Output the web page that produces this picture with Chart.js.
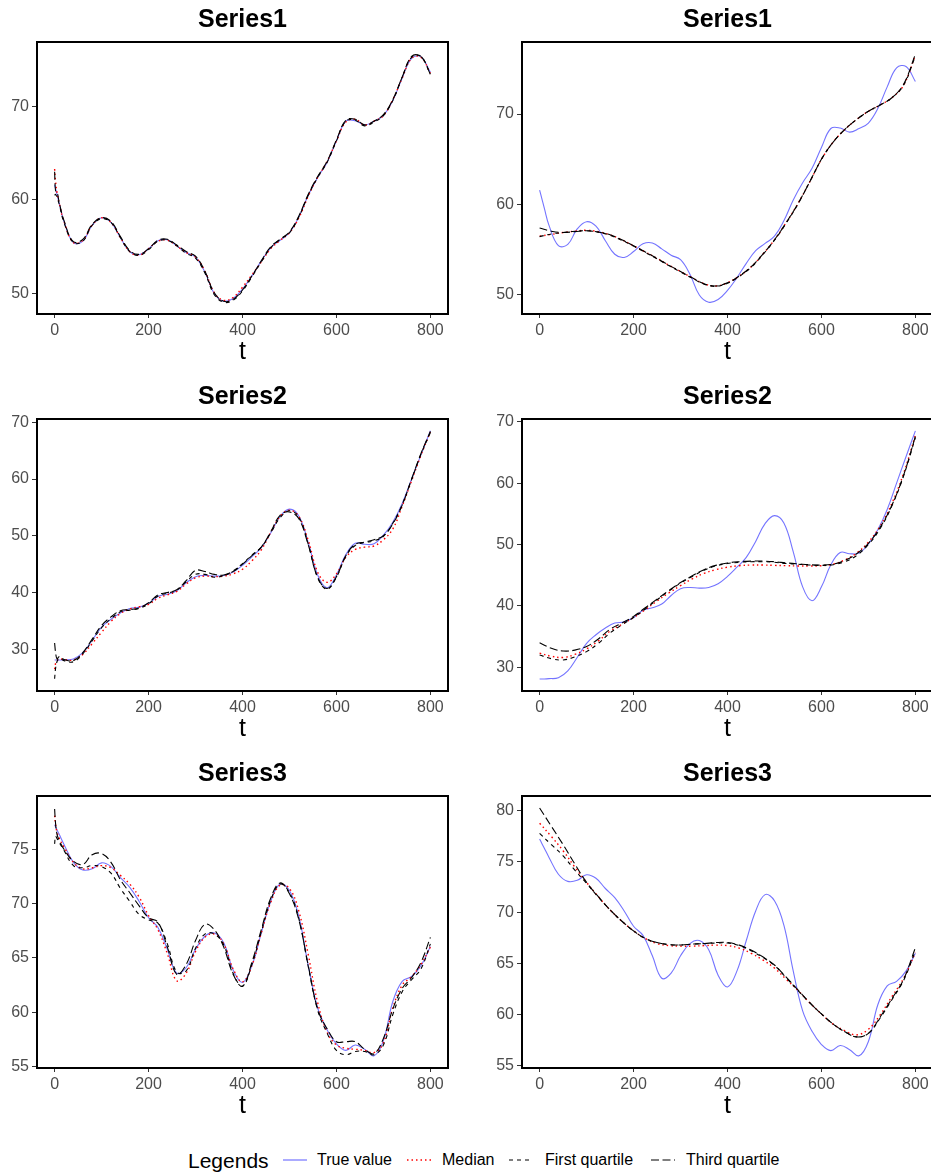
<!DOCTYPE html>
<html>
<head>
<meta charset="utf-8">
<script src="https://cdn.jsdelivr.net/npm/chart.js@4.4.1/dist/chart.umd.min.js"></script>
<style>
  html, body { margin: 0; padding: 0; background: #fff; width: 931px; height: 1173px; overflow: hidden; }
  body { position: relative; font-family: 'Liberation Sans', Arial, Helvetica, sans-serif; }
  canvas { position: absolute; }
  .lg { position: absolute; top: 1160px; transform: translateY(-50%); line-height: 1; color: #000; white-space: nowrap; }
  .key { position: absolute; top: 1155px; }
</style>
</head>
<body>
<canvas id="p1" width="465" height="370" style="left:0px;top:0px"></canvas>
<canvas id="p2" width="470" height="370" style="left:465px;top:0px"></canvas>
<canvas id="p3" width="465" height="370" style="left:0px;top:377px"></canvas>
<canvas id="p4" width="470" height="370" style="left:465px;top:377px"></canvas>
<canvas id="p5" width="465" height="370" style="left:0px;top:754px"></canvas>
<canvas id="p6" width="470" height="370" style="left:465px;top:754px"></canvas>

<div class="lg" style="left:188px;font-size:21px">Legends</div>
<svg class="key" style="left:282px" width="26" height="10"><line x1="1" y1="5" x2="25" y2="5" stroke="rgba(0,0,255,0.55)" stroke-width="1.2"/></svg>
<div class="lg" style="left:317px;font-size:16px">True value</div>
<svg class="key" style="left:406px" width="26" height="10"><line x1="1" y1="5" x2="25" y2="5" stroke="#ff0000" stroke-width="1.4" stroke-dasharray="1.5 3"/></svg>
<div class="lg" style="left:442px;font-size:16px">Median</div>
<svg class="key" style="left:508px" width="26" height="10"><line x1="1" y1="5" x2="25" y2="5" stroke="#000" stroke-width="1.1" stroke-dasharray="4 4"/></svg>
<div class="lg" style="left:545px;font-size:16px">First quartile</div>
<svg class="key" style="left:650px" width="26" height="10"><line x1="1" y1="5" x2="25" y2="5" stroke="#000" stroke-width="1.1" stroke-dasharray="8 3.5"/></svg>
<div class="lg" style="left:686px;font-size:16px">Third quartile</div>

<script>
// ---- time grids ----
const tFine = [0, 2, 5, 10, 20, 40, 60, 80, 100, 120, 140, 160, 180, 200, 220, 240, 260, 280, 300,
  320, 340, 360, 380, 400, 420, 440, 460, 480, 500, 520, 540, 560, 580, 600, 620, 640, 660, 680,
  700, 720, 740, 760, 780, 800];
const tSmooth = [0, 25, 50, 75, 100, 125, 150, 175, 200, 225, 250, 275, 300, 325, 350, 375, 400,
  425, 450, 475, 500, 525, 550, 575, 600, 625, 650, 675, 700, 725, 750, 775, 800];

// ---- axis ticks ----
const xTicks = [0, 200, 400, 600, 800];
const yTicksS1 = [50, 60, 70];
const yTicksS2 = [30, 40, 50, 60, 70];
const yTicksS3L = [55, 60, 65, 70, 75];
const yTicksS3R = [55, 60, 65, 70, 75, 80];

// ---- true values (on tFine) ----
const s1True = [61.6, 61.2, 60.6, 59.6, 57.7, 55.45, 55.6, 57.3, 58.1, 57.6, 56.0, 54.5, 54.15, 54.8,
  55.65, 55.75, 55.1, 54.4, 53.9, 52.3, 50.0, 49.2, 49.5, 50.5, 51.9, 53.5, 54.9, 55.7, 56.5,
  58.2, 60.5, 62.4, 64.0, 66.3, 68.4, 68.45, 68.0, 68.4, 69.0, 70.6, 73.0, 75.1, 75.25, 73.6];
const s2True = [28.1, 28.1, 28.1, 28.1, 28.15, 28.3, 29.4, 31.6, 33.9, 35.3, 36.4, 37.2, 37.4, 38.1,
  39.3, 39.7, 40.3, 41.7, 42.8, 43.0, 42.9, 43.0, 43.6, 44.8, 46.3, 47.9, 50.5, 53.4, 54.7,
  53.5, 48.8, 43.1, 40.85, 43.1, 46.7, 48.7, 48.5, 48.6, 50.1, 52.4, 55.7, 60.0, 64.3, 68.5];
const s3True = [77.25, 77.07, 76.8, 76.35, 75.45, 73.8, 73.1, 73.2, 73.75, 73.4, 72.4, 71.5, 70.2, 68.7,
  67.8, 65.8, 63.6, 64.1, 65.8, 67.0, 67.3, 66.4, 63.9, 62.75, 64.3, 67.3, 70.2, 71.8, 71.2,
  68.8, 64.3, 60.4, 58.4, 57.1, 56.5, 57.0, 56.6, 56.0, 57.4, 61.0, 62.85, 63.3, 64.3, 66.05];

// ---- left column: estimates on tFine ----
const s1MedL = [63.3, 62.0, 60.8, 59.6, 57.7, 55.45, 55.7, 57.3, 58.1, 57.6, 56.0, 54.5, 54.1, 54.8,
  55.6, 55.7, 55.1, 54.4, 53.9, 52.4, 50.1, 49.3, 49.6, 50.7, 52.0, 53.4, 54.8, 55.7, 56.5,
  58.1, 60.4, 62.4, 64.1, 66.3, 68.3, 68.6, 68.0, 68.4, 69.0, 70.7, 73.0, 75.1, 75.2, 73.5];
const s1Q1L = [60.5, 60.6, 60.3, 59.5, 57.6, 55.45, 55.6, 57.3, 58.0, 57.6, 56.0, 54.5, 54.1, 54.7,
  55.6, 55.7, 55.1, 54.3, 53.8, 52.2, 49.9, 49.1, 49.3, 50.3, 51.8, 53.4, 54.9, 55.8, 56.5,
  58.2, 60.5, 62.4, 64.0, 66.3, 68.4, 68.5, 67.9, 68.3, 69.0, 70.6, 73.1, 75.2, 75.3, 73.4];
const s1Q3L = [63.0, 61.0, 60.9, 59.7, 57.8, 55.55, 55.8, 57.4, 58.1, 57.7, 56.1, 54.6, 54.2, 54.8,
  55.7, 55.8, 55.2, 54.5, 54.0, 52.4, 50.1, 49.2, 49.4, 50.4, 51.9, 53.5, 55.0, 55.8, 56.6,
  58.3, 60.6, 62.5, 64.1, 66.4, 68.5, 68.6, 68.0, 68.4, 69.1, 70.7, 73.1, 75.3, 75.3, 73.4];

const s2MedL = [26.5, 27.5, 28.0, 28.3, 28.2, 28.1, 29.1, 31.0, 33.0, 34.9, 36.3, 37.1, 37.5, 37.9,
  39.0, 39.6, 40.2, 41.5, 42.6, 42.9, 42.8, 42.9, 43.3, 44.1, 45.6, 47.5, 50.6, 53.4, 54.5,
  53.4, 49.2, 43.6, 41.8, 43.3, 46.2, 47.6, 48.0, 48.2, 49.3, 51.2, 55.2, 59.7, 64.2, 68.3];
const s2Q1L = [24.8, 26.6, 27.8, 28.4, 28.0, 27.8, 29.2, 31.5, 33.8, 35.4, 36.6, 36.9, 37.2, 38.0,
  39.4, 39.9, 40.4, 41.9, 43.2, 43.2, 42.7, 43.0, 43.8, 45.1, 46.6, 48.0, 50.5, 53.2, 54.4,
  53.3, 48.5, 42.6, 40.6, 42.7, 46.4, 48.3, 48.8, 49.1, 49.9, 52.2, 55.5, 59.9, 64.4, 68.2];
const s2Q3L = [31.1, 29.5, 28.3, 28.7, 28.2, 28.0, 29.4, 31.8, 34.2, 35.7, 36.8, 37.0, 37.3, 38.2,
  39.6, 40.0, 40.5, 42.1, 43.9, 43.7, 43.2, 43.1, 43.7, 45.0, 46.5, 48.0, 50.7, 53.6, 54.2,
  53.0, 48.4, 42.7, 40.7, 42.8, 46.5, 48.5, 48.9, 49.3, 50.0, 52.1, 55.4, 60.0, 64.5, 68.4];

const s3MedL = [78.1, 77.3, 76.6, 76.0, 75.2, 73.8, 73.2, 73.3, 73.5, 73.3, 72.6, 71.8, 70.6, 68.9,
  67.6, 65.4, 62.9, 63.6, 65.6, 66.9, 67.2, 66.3, 64.0, 62.8, 64.3, 67.3, 70.1, 71.7, 71.4,
  69.3, 65.3, 60.9, 58.2, 57.0, 56.7, 56.6, 56.5, 56.3, 57.2, 60.4, 62.5, 63.3, 64.4, 66.0];
const s3Q1L = [75.5, 76.2, 76.0, 75.6, 74.9, 73.5, 73.3, 73.5, 73.4, 72.8, 71.4, 70.2, 69.0, 68.5,
  68.2, 66.3, 63.7, 63.8, 65.9, 67.2, 67.2, 66.2, 63.6, 62.4, 64.4, 67.4, 70.3, 71.8, 71.0,
  68.6, 64.2, 60.2, 58.1, 56.5, 56.1, 56.4, 56.4, 56.1, 57.0, 59.8, 61.9, 63.0, 64.0, 66.3];
const s3Q3L = [78.7, 77.4, 76.4, 75.8, 75.0, 73.9, 73.6, 74.5, 74.6, 73.8, 72.2, 71.0, 69.8, 68.7,
  68.3, 66.0, 63.5, 64.4, 66.6, 68.1, 67.6, 66.0, 63.5, 62.4, 64.6, 67.6, 70.5, 71.9, 70.9,
  68.5, 64.3, 60.3, 58.5, 57.3, 57.3, 57.3, 56.6, 56.2, 57.6, 60.3, 62.2, 63.2, 64.6, 66.9];

// ---- right column: estimates on tSmooth ----
const s1MedR = [56.5, 56.7, 56.9, 57.05, 57.15, 57.0, 56.65, 56.1, 55.45, 54.75, 54.05, 53.3, 52.6,
  51.9, 51.25, 51.0, 51.35, 52.1, 53.1, 54.5, 56.1, 58.0, 60.1, 62.5, 65.0, 66.9, 68.3, 69.4,
  70.3, 71.0, 71.8, 73.2, 76.5];
const s1Q1R = [56.45, 56.75, 56.9, 57.05, 57.1, 56.95, 56.6, 56.05, 55.4, 54.7, 54.0, 53.25, 52.55,
  51.85, 51.2, 50.95, 51.3, 52.05, 53.05, 54.45, 56.05, 57.95, 60.05, 62.5, 65.0, 66.9, 68.3,
  69.4, 70.3, 71.0, 71.8, 73.2, 76.4];
const s1Q3R = [57.4, 57.05, 56.9, 57.0, 57.1, 56.95, 56.65, 56.1, 55.45, 54.75, 54.05, 53.3, 52.6,
  51.9, 51.25, 51.0, 51.35, 52.1, 53.1, 54.5, 56.1, 58.0, 60.1, 62.5, 65.0, 66.9, 68.3, 69.4,
  70.3, 71.0, 71.8, 73.3, 76.6];

const s2MedR = [32.3, 31.8, 31.6, 32.1, 33.0, 34.3, 35.9, 37.0, 38.1, 39.4, 40.8, 42.1, 43.3, 44.4,
  45.3, 45.9, 46.3, 46.55, 46.65, 46.65, 46.6, 46.55, 46.5, 46.5, 46.55, 46.8, 47.5, 48.6,
  50.4, 53.0, 56.7, 61.6, 67.8];
const s2Q1R = [32.0, 31.4, 31.2, 31.7, 32.55, 33.9, 35.6, 36.9, 38.1, 39.5, 41.0, 42.4, 43.7, 44.8,
  45.8, 46.5, 46.9, 47.1, 47.2, 47.2, 47.1, 46.9, 46.8, 46.65, 46.6, 46.7, 47.2, 48.2, 50.0,
  52.6, 56.3, 61.2, 67.4];
const s2Q3R = [34.0, 33.1, 32.65, 32.8, 33.4, 34.6, 36.2, 37.2, 38.3, 39.7, 41.1, 42.5, 43.8, 44.9,
  45.9, 46.6, 47.0, 47.2, 47.3, 47.3, 47.2, 47.0, 46.85, 46.7, 46.65, 46.8, 47.4, 48.5, 50.2,
  52.8, 56.4, 61.3, 67.6];

const s3MedR = [78.8, 77.5, 76.1, 74.5, 73.0, 71.6, 70.3, 69.2, 68.25, 67.5, 67.0, 66.8, 66.75,
  66.75, 66.8, 66.85, 66.8, 66.55, 66.05, 65.4, 64.6, 63.5, 62.4, 61.2, 60.1, 59.1, 58.45,
  58.05, 58.6, 60.0, 61.8, 63.6, 66.1];
const s3Q1R = [77.8, 76.7, 75.6, 74.2, 72.9, 71.55, 70.3, 69.2, 68.24, 67.5, 67.1, 66.9, 66.86,
  66.95, 67.0, 67.05, 67.05, 66.8, 66.3, 65.65, 64.85, 63.65, 62.4, 61.2, 60.1, 59.1, 58.35,
  57.85, 58.2, 59.7, 61.5, 63.4, 66.3];
const s3Q3R = [80.3, 78.5, 76.7, 74.8, 73.0, 71.6, 70.3, 69.2, 68.24, 67.5, 67.1, 66.9, 66.86,
  66.95, 67.0, 67.1, 67.1, 66.85, 66.37, 65.7, 64.9, 63.7, 62.45, 61.2, 60.1, 59.1, 58.35,
  57.85, 58.2, 59.8, 61.6, 63.5, 66.6];

// ---- drawing ----
const FONT = "'Liberation Sans', Arial, Helvetica, sans-serif";
Chart.defaults.font.family = FONT;

const styles = {
  truth: { borderColor: 'rgba(0,0,255,0.55)', borderWidth: 1.1 },
  median: { borderColor: '#ff0000', borderWidth: 1.4, borderDash: [1.5, 3] },
  q1: { borderColor: '#000000', borderWidth: 1.1, borderDash: [4, 4] },
  q3: { borderColor: '#000000', borderWidth: 1.1, borderDash: [8, 3.5] }
};

function line(label, ts, vals, style) {
  return Object.assign({
    label,
    data: ts.map((t, i) => ({ x: t, y: vals[i] })),
    pointRadius: 0,
    fill: false,
    tension: 0.4
  }, style);
}

const panelBorder = {
  id: 'panelBorder',
  afterDatasetsDraw(chart) {
    const { ctx, chartArea: a } = chart;
    ctx.save();
    ctx.strokeStyle = '#000';
    ctx.lineWidth = 2;
    ctx.strokeRect(a.left, a.top, a.right - a.left, a.bottom - a.top);
    ctx.restore();
  }
};

function makePanel(id, title, datasets, yMin, yMax, yTicks, yWidth, padRight) {
  new Chart(document.getElementById(id), {
    type: 'line',
    data: { datasets },
    options: {
      responsive: false,
      animation: false,
      devicePixelRatio: 1,
      layout: { padding: { left: 0, right: padRight, top: 0, bottom: 0 } },
      plugins: {
        legend: { display: false },
        tooltip: { enabled: false },
        title: {
          display: true, text: title, fullSize: false, color: '#000',
          font: { family: FONT, size: 25, weight: 'bold', lineHeight: 1.2 },
          padding: { top: 5, bottom: 7 }
        }
      },
      scales: {
        x: {
          type: 'linear', min: -37.5, max: 837.5,
          afterBuildTicks: s => { s.ticks = xTicks.map(v => ({ value: v })); },
          afterFit: s => { s.height = 56; s.paddingLeft = 0; s.paddingRight = 0; },
          grid: { drawOnChartArea: false, drawTicks: true, tickLength: 4, color: '#333', lineWidth: 1 },
          border: { display: false },
          ticks: { color: '#4d4d4d', font: { family: FONT, size: 16 }, padding: 2.5, maxRotation: 0, autoSkip: false },
          title: { display: true, text: 't', color: '#000', font: { family: FONT, size: 25, lineHeight: 1.2 }, padding: { top: 0, bottom: 2.5 } }
        },
        y: {
          type: 'linear', min: yMin, max: yMax,
          afterBuildTicks: s => { s.ticks = yTicks.map(v => ({ value: v })); },
          afterFit: s => { s.width = yWidth; s.paddingTop = 0; s.paddingBottom = 0; },
          grid: { drawOnChartArea: false, drawTicks: true, tickLength: 5, color: '#333', lineWidth: 1 },
          border: { display: false },
          ticks: { color: '#4d4d4d', font: { family: FONT, size: 16 }, padding: 3, autoSkip: false }
        }
      }
    },
    plugins: [panelBorder]
  });
}

function leftSet(truth, med, q1, q3) {
  return [
    line('Third quartile', tFine, q3, styles.q3),
    line('First quartile', tFine, q1, styles.q1),
    line('Median', tFine, med, styles.median),
    line('True value', tFine, truth, styles.truth)
  ];
}
function rightSet(truth, med, q1, q3) {
  return [
    line('Third quartile', tSmooth, q3, styles.q3),
    line('First quartile', tSmooth, q1, styles.q1),
    line('Median', tSmooth, med, styles.median),
    line('True value', tFine, truth, styles.truth)
  ];
}

makePanel('p1', 'Series1', leftSet(s1True, s1MedL, s1Q1L, s1Q3L), 47.84, 76.84, yTicksS1, 37, 17);
makePanel('p2', 'Series1', rightSet(s1True, s1MedR, s1Q1R, s1Q3R), 47.9, 77.96, yTicksS1, 57, 2);
makePanel('p3', 'Series2', leftSet(s2True, s2MedL, s2Q1L, s2Q3L), 22.65, 70.58, yTicksS2, 37, 17);
makePanel('p4', 'Series2', rightSet(s2True, s2MedR, s2Q1R, s2Q3R), 26.14, 70.44, yTicksS2, 57, 2);
makePanel('p5', 'Series3', leftSet(s3True, s3MedL, s3Q1L, s3Q3L), 54.88, 79.9, yTicksS3L, 37, 17);
makePanel('p6', 'Series3', rightSet(s3True, s3MedR, s3Q1R, s3Q3R), 54.8, 81.47, yTicksS3R, 57, 2);
</script>
</body>
</html>
